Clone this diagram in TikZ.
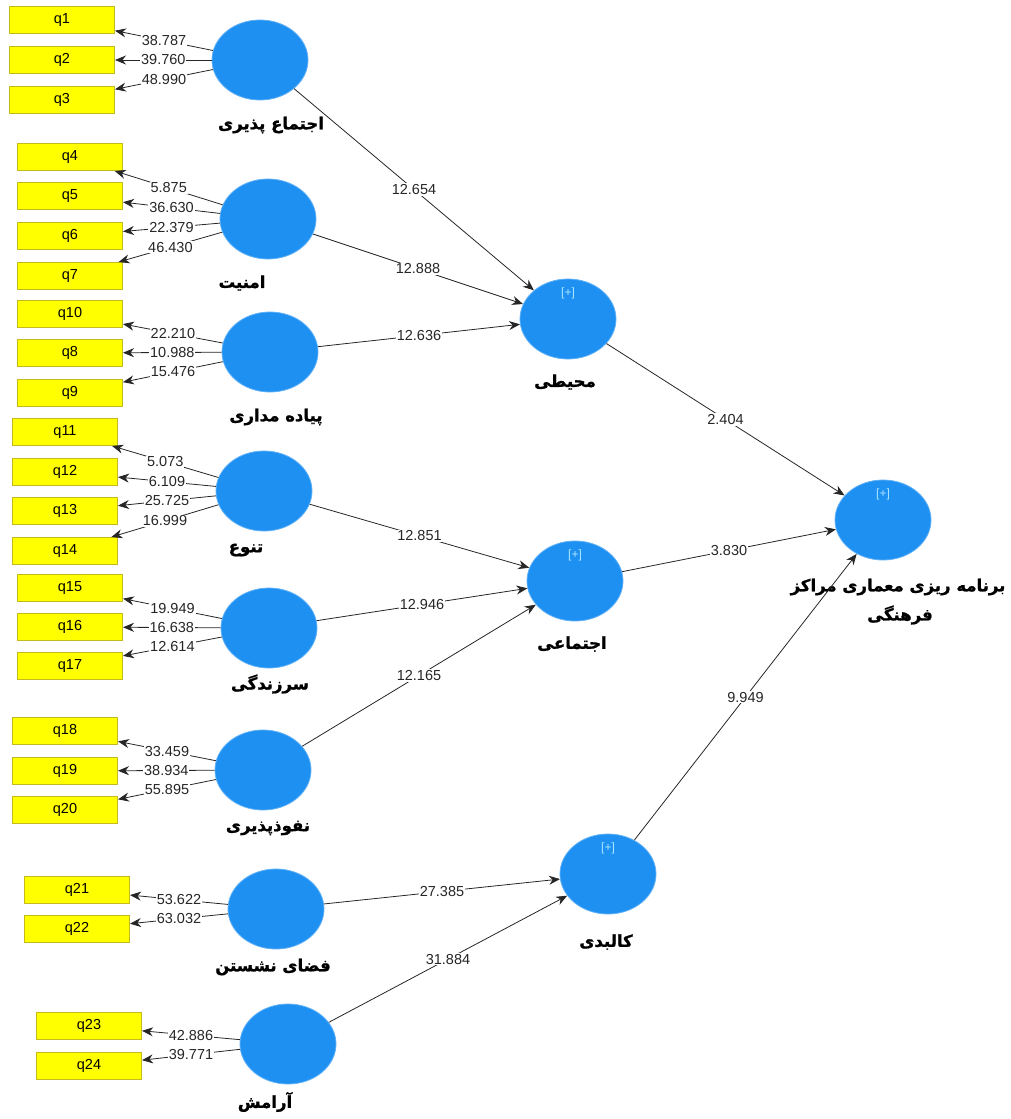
\documentclass[tikz,border=0pt]{standalone}
\usepackage{fontspec}
\usepackage{xcolor}
\usepackage{tikz}
\usetikzlibrary{positioning,shapes.geometric,arrows.meta}
\setmainfont{Liberation Sans}
\newfontfamily\farsi[Script=Arabic, FakeBold=1.2]{DejaVu Sans Bold}
\TeXXeTstate=1
\definecolor{PLSBlue}{RGB}{30,144,242}
\definecolor{PLSYellow}{RGB}{255,255,0}
\definecolor{PLSEdge}{RGB}{196,186,30}
\definecolor{PLSPlus}{RGB}{170,232,255}
\tikzset{
    latent/.style={ellipse, fill=PLSBlue, draw=PLSBlue!70!white, line width=0.8pt, minimum width=96pt, minimum height=80pt, inner sep=0pt},
    indicator/.style={rectangle, fill=PLSYellow, draw=PLSEdge, line width=1pt, minimum width=105pt, minimum height=27pt, inner sep=0pt, font=\fontsize{14.5}{16}\selectfont},
    latname/.style={inner sep=1pt, font=\farsi\fontsize{16.5}{22}\selectfont},
    plus/.style={inner sep=1pt, text=PLSPlus, font=\fontsize{12}{13}\selectfont}
}
\begin{document}
\begin{tikzpicture}[
        x=1pt, y=-1pt,
        % Style cho duong noi: manh, mau den
        loading/.style={draw=black!85, line width=0.8pt, -{Stealth[length=11pt,width=9pt]}},
        path/.style={draw=black!85, line width=0.8pt, -{Stealth[length=11pt,width=9pt]}},
        % Style cho so tren duong noi
        val/.style={midway, fill=white, inner sep=1pt, text=black!85, font=\fontsize{14.5}{16}\selectfont}
    ]
    \useasboundingbox (0,0) rectangle (1011,1119);

    % --- CHI BAO (O VANG) ---
    \node[indicator] (q1) at (62,20) {q1};
    \node[indicator] (q2) at (62,60) {q2};
    \node[indicator] (q3) at (62,100) {q3};
    \node[indicator] (q4) at (70,157) {q4};
    \node[indicator] (q5) at (70,196) {q5};
    \node[indicator] (q6) at (70,236) {q6};
    \node[indicator] (q7) at (70,276) {q7};
    \node[indicator] (q10) at (70,314) {q10};
    \node[indicator] (q8) at (70,353) {q8};
    \node[indicator] (q9) at (70,393) {q9};
    \node[indicator] (q11) at (65,432) {q11};
    \node[indicator] (q12) at (65,472) {q12};
    \node[indicator] (q13) at (65,511) {q13};
    \node[indicator] (q14) at (65,551) {q14};
    \node[indicator] (q15) at (70,588) {q15};
    \node[indicator] (q16) at (70,627) {q16};
    \node[indicator] (q17) at (70,666) {q17};
    \node[indicator] (q18) at (65,731) {q18};
    \node[indicator] (q19) at (65,771) {q19};
    \node[indicator] (q20) at (65,810) {q20};
    \node[indicator] (q21) at (77,890) {q21};
    \node[indicator] (q22) at (77,929) {q22};
    \node[indicator] (q23) at (89,1026) {q23};
    \node[indicator] (q24) at (89,1066) {q24};

    % --- BIEN TIEM AN BAC 1 ---
    \node[latent] (ejtema) at (260,60) {};
    \node[latent] (amniat) at (268,219) {};
    \node[latent] (piade) at (270,352) {};
    \node[latent] (tanavo) at (264,491) {};
    \node[latent] (sarzendegi) at (269,628) {};
    \node[latent] (nofoz) at (263,770) {};
    \node[latent] (fazaa) at (276,909) {};
    \node[latent] (aramesh) at (288,1044) {};

    % --- BIEN TIEM AN BAC 2 ---
    \node[latent] (mohiti) at (568,319) {};
    \node[latent] (ejtemai) at (575,581) {};
    \node[latent] (kalbodi) at (608,874) {};
    \node[latent] (barname) at (883,520) {};
    \node[plus, below=8pt of mohiti.north] (mohitiplus) {[+]};
    \node[plus, below=8pt of ejtemai.north] (ejtemaiplus) {[+]};
    \node[plus, below=8pt of kalbodi.north] (kalbodiplus) {[+]};
    \node[plus, below=8pt of barname.north] (barnameplus) {[+]};

    % --- TEN BIEN ---
    \node[latname] (ejtemaname) at (271,125) {\beginR اجتماع پذیری\endR};
    \node[latname] (amniatname) at (242,283) {\beginR امنیت\endR};
    \node[latname] (piadename) at (276,417) {\beginR پیاده مداری\endR};
    \node[latname] (tanavoname) at (246,550) {\beginR تنوع\endR};
    \node[latname] (sarzendeginame) at (270,684) {\beginR سرزندگی\endR};
    \node[latname] (nofozname) at (268,828) {\beginR نفوذپذیری\endR};
    \node[latname] (fazaaname) at (273,967) {\beginR فضای نشستن\endR};
    \node[latname] (arameshname) at (265,1102) {\beginR آرامش\endR};
    \node[latname] (mohitiname) at (565,382) {\beginR محیطی\endR};
    \node[latname] (ejtemainame) at (572,644) {\beginR اجتماعی\endR};
    \node[latname] (kalbodiname) at (606,942) {\beginR کالبدی\endR};
    \node[latname] (barnamename) at (898,587) {\beginR برنامه ریزی معماری مراکز\endR};
    \node[latname] (barnamename2) at (900,615) {\beginR فرهنگی\endR};

    % --- BAR NHAN TO ---
    \draw[loading] (ejtema) -- (q1) node[val] {38.787};
    \draw[loading] (ejtema) -- (q2) node[val] {39.760};
    \draw[loading] (ejtema) -- (q3) node[val] {48.990};
    \draw[loading] (amniat) -- (q4) node[val] {5.875};
    \draw[loading] (amniat) -- (q5) node[val] {36.630};
    \draw[loading] (amniat) -- (q6) node[val] {22.379};
    \draw[loading] (amniat) -- (q7) node[val] {46.430};
    \draw[loading] (piade) -- (q10) node[val] {22.210};
    \draw[loading] (piade) -- (q8) node[val] {10.988};
    \draw[loading] (piade) -- (q9) node[val] {15.476};
    \draw[loading] (tanavo) -- (q11) node[val] {5.073};
    \draw[loading] (tanavo) -- (q12) node[val] {6.109};
    \draw[loading] (tanavo) -- (q13) node[val] {25.725};
    \draw[loading] (tanavo) -- (q14) node[val] {16.999};
    \draw[loading] (sarzendegi) -- (q15) node[val] {19.949};
    \draw[loading] (sarzendegi) -- (q16) node[val] {16.638};
    \draw[loading] (sarzendegi) -- (q17) node[val] {12.614};
    \draw[loading] (nofoz) -- (q18) node[val] {33.459};
    \draw[loading] (nofoz) -- (q19) node[val] {38.934};
    \draw[loading] (nofoz) -- (q20) node[val] {55.895};
    \draw[loading] (fazaa) -- (q21) node[val] {53.622};
    \draw[loading] (fazaa) -- (q22) node[val] {63.032};
    \draw[loading] (aramesh) -- (q23) node[val] {42.886};
    \draw[loading] (aramesh) -- (q24) node[val] {39.771};

    % --- DUONG DAN CAU TRUC ---
    \draw[path] (ejtema) -- (mohiti) node[val] {12.654};
    \draw[path] (amniat) -- (mohiti) node[val] {12.888};
    \draw[path] (piade) -- (mohiti) node[val] {12.636};
    \draw[path] (tanavo) -- (ejtemai) node[val] {12.851};
    \draw[path] (sarzendegi) -- (ejtemai) node[val] {12.946};
    \draw[path] (nofoz) -- (ejtemai) node[val] {12.165};
    \draw[path] (fazaa) -- (kalbodi) node[val] {27.385};
    \draw[path] (aramesh) -- (kalbodi) node[val] {31.884};
    \draw[path] (mohiti) -- (barname) node[val] {2.404};
    \draw[path] (ejtemai) -- (barname) node[val] {3.830};
    \draw[path] (kalbodi) -- (barname) node[val] {9.949};

\end{tikzpicture}
\end{document}
